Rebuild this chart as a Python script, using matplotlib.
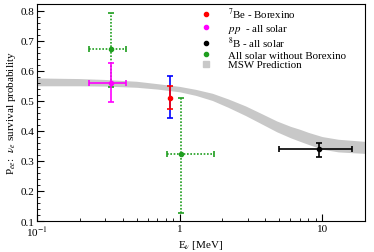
import matplotlib
matplotlib.use('Agg')
import matplotlib.pyplot as plt
import numpy as np

plt.rcParams['font.family'] = ['Liberation Serif', 'DejaVu Serif']
plt.rcParams['mathtext.fontset'] = 'stix'

# data
# 7Be - Borexino
be7_E = [0.862]
be7_P = [0.511]
be7_err_red = [[0.037], [0.037]]
be7_err_blue = [[0.069], [0.07]]

# pp - all solar
pp_E = [0.33]
pp_P = [0.56]
pp_xerr = [[0.098], [0.09]]
pp_yerr = [[0.063], [0.066]]

# 8B - all solar
b8_E = [9.5]
b8_P = [0.338]
b8_xerr = [[4.55], [6.6]]
b8_yerr = [[0.025], [0.023]]

# all solar without Borexino
gr_E = [0.33, 1.03]
gr_P = [0.672, 0.324]
gr_xerr = [[0.098, 0.22], [0.09, 0.71]]
gr_yerr = [[0.126, 0.197], [0.12, 0.187]]

# MSW prediction band (center and half width)
msw_E = [0.1, 0.2, 0.3, 0.5, 0.7, 1.0, 1.3, 1.7, 2.2, 2.9, 3.7, 4.8, 6.0, 7.0,
         8.0, 10.0, 13.0, 20.0]
msw_P = [0.563, 0.562, 0.560, 0.555, 0.548, 0.539, 0.528, 0.513, 0.492, 0.467,
         0.442, 0.415, 0.396, 0.385, 0.375, 0.360, 0.351, 0.345]
msw_hw = [0.013, 0.012, 0.011, 0.010, 0.009, 0.009, 0.010, 0.012, 0.014, 0.016,
          0.017, 0.018, 0.019, 0.020, 0.020, 0.021, 0.021, 0.020]

fig = plt.figure(figsize=(3.74, 2.53), dpi=100)
ax = fig.add_axes([0.099, 0.1225, 0.877, 0.8575])

lo = np.array(msw_P) - np.array(msw_hw)
hi = np.array(msw_P) + np.array(msw_hw)
ax.fill_between(msw_E, lo, hi, color='#c8c8c8', lw=0)

green = '#1f9e1f'
eb = ax.errorbar(gr_E, gr_P, xerr=gr_xerr, yerr=gr_yerr, fmt='o', color=green,
                 ms=3, capsize=2, elinewidth=1.2, capthick=1.2)
for line in eb[2]:
    line.set_linestyle((0, (1, 1)))
ax.errorbar(pp_E, pp_P, xerr=pp_xerr, yerr=pp_yerr, fmt='o', color='magenta',
            ms=3, capsize=2.5, elinewidth=1.2, capthick=1.2)
ax.errorbar(be7_E, be7_P, yerr=be7_err_blue, fmt='none', color='blue',
            capsize=2.5, elinewidth=1.2, capthick=1.2)
ax.errorbar(be7_E, be7_P, yerr=be7_err_red, fmt='o', color='red',
            ms=3, capsize=2.5, elinewidth=1.2, capthick=1.2)
ax.errorbar(b8_E, b8_P, xerr=b8_xerr, yerr=b8_yerr, fmt='o', color='black',
            ms=3, capsize=2.5, elinewidth=1.2, capthick=1.2)

# legend proxies
h1, = ax.plot([], [], 'o', color='red', ms=3)
h2, = ax.plot([], [], 'o', color='magenta', ms=3)
h3, = ax.plot([], [], 'o', color='black', ms=3)
h4, = ax.plot([], [], 'o', color=green, ms=3)
h5, = ax.plot([], [], 's', color='#c8c8c8', ms=5)
ax.legend([h1, h2, h3, h4, h5],
          ['$^7$Be - Borexino', '$pp$  - all solar', '$^8$B - all solar',
           'All solar without Borexino', 'MSW Prediction'],
          loc='upper left', frameon=False, fontsize=7.8, handlelength=1.0,
          labelspacing=0.02, borderaxespad=0.0, handletextpad=1.5,
          borderpad=0.0, bbox_to_anchor=(0.5, 0.99))

ax.set_xscale('log')
ax.set_xlim(0.1, 20)
ax.set_ylim(0.1, 0.822)
ax.set_yticks([0.1, 0.2, 0.3, 0.4, 0.5, 0.6, 0.7, 0.8])
ax.set_yticks(np.arange(0.1, 0.82, 0.02), minor=True)
ax.set_xticks([0.1, 1, 10])
ax.set_xticklabels(['10$^{-1}$', '1', '10'])
ax.tick_params(which='both', direction='in', labelsize=8, top=False, right=False, pad=2)
ax.tick_params(which='major', length=5)
ax.tick_params(which='minor', length=2.5)
ax.set_xlabel('E$_\\nu$ [MeV]', fontsize=8, labelpad=0)
ax.set_ylabel('P$_{ee}$:  $\\nu_e$ survival probability', fontsize=8, labelpad=2)

fig.savefig('out.png', dpi=100)
